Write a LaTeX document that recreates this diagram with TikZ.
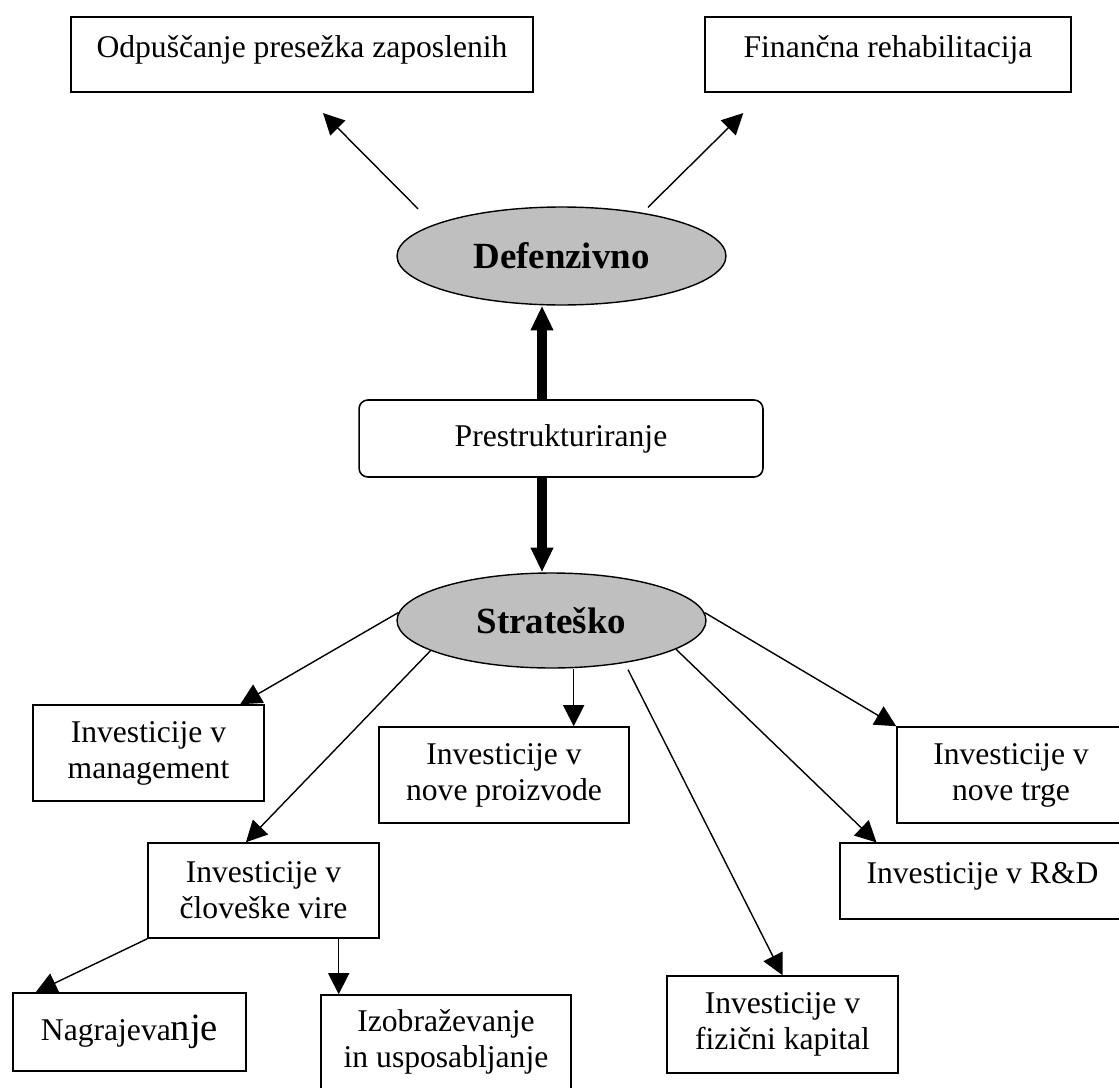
\documentclass[tikz,border=0pt]{standalone}
\usepackage{fontspec}
\setmainfont{Liberation Serif}
\usepackage{tikz}
\usetikzlibrary{shapes.geometric, arrows.meta, calc}

\begin{document}
\begin{tikzpicture}[
    x=0.02cm, y=-0.02cm,
    box/.style={
      rectangle, draw=black, line width=0.9pt,
      minimum width=4.62cm, minimum height=1.92cm,
      inner sep=2pt, align=center,
      font=\fontsize{18}{20.5}\selectfont
    },
    ubox/.style={
      box, text height=23pt, text depth=20pt,
      inner ysep=0pt, minimum height=0pt
    },
    rbox/.style={box, rounded corners=5pt},
    ell/.style={
      ellipse, draw=black, line width=0.8pt, fill=black!25,
      inner sep=0pt, font=\fontsize{21}{24}\selectfont\bfseries
    },
    arr/.style={-{Triangle[length=12pt, width=12pt]}, line width=0.8pt},
    thk/.style={-{Triangle[length=14pt, width=12pt]}, line width=6pt}
  ]
  \useasboundingbox (0,0) rectangle (1119,1088);
  \clip (0,0) rectangle (1119,1088);

  \node[ubox, minimum width=9.24cm] (odp) at (302,54.5) {Odpuščanje presežka zaposlenih};
  \node[ubox, minimum width=7.32cm] (fin) at (888,54.5) {Finančna rehabilitacija};
  \node[ell, minimum width=6.58cm, minimum height=1.96cm] (def) at (561.5,256) {Defenzivno};
  \node[rbox, minimum width=8.08cm, minimum height=1.54cm] (pres) at (561,438.5) {Prestrukturiranje};
  \node[ell, minimum width=6.18cm, minimum height=1.9cm] (stra) at (551.5,620.5) {Strateško};

  \node[box] (mgmt) at (148.5,753) {Investicije v\\management};
  \node[box, minimum width=5cm] (prod) at (504,775) {Investicije v\\nove proizvode};
  \node[box, minimum width=4.56cm] (trge) at (1011,775) {Investicije v\\nove trge};
  \node[ubox, minimum width=5.7cm] (rd) at (982.5,881) {Investicije v R\&D};
  \node[box, minimum height=1.9cm] (clov) at (263.5,890.5) {Investicije v\\človeške vire};
  \node[box, minimum height=1.94cm] (fiz) at (782.5,1024.5) {Investicije v\\fizični kapital};
  \node[box, minimum width=4.66cm, minimum height=1.56cm] (nag) at (129.5,1032)
        {Nagrajeva{\fontsize{22}{25}\selectfont nje}};
  \node[box, minimum width=5cm, minimum height=1.88cm] (izob) at (446,1042)
        {Izobraževanje\\in usposabljanje};

  % defenzivno
  \draw[arr] ($(def.north)+(-143.5,2.5)$) -- ($(odp.south)+(21,20)$);
  \draw[arr] ($(def.north)+(86.5,1)$) -- ($(fin.south west)+(39,20)$);
  \draw[thk] ($(pres.north)+(-19,0)$) -- ($(def.south)+(-19.5,0)$);
  \draw[thk] ($(pres.south)+(-19,0)$) -- ($(stra.north)+(-9.5,0)$);

  % strateško
  \draw[arr] (stra.177) -- (mgmt.28.5);
  \draw[arr] (stra.194.5) -- (clov.110.2);
  \draw[arr] (prod.35.6 |- stra.south) -- (prod.35.6);
  \draw[arr] ($(stra.south)+(76.5,1)$) -- (fiz.north);
  \draw[arr] (stra.347.7) -- (rd.160);
  \draw[arr] (stra.3) -- (trge.north west);
  \draw[arr] (clov.south west) -- (nag.157.4);
  \draw[arr] (izob.156.1 |- clov.south) -- (izob.156.1);

\end{tikzpicture}
\end{document}
